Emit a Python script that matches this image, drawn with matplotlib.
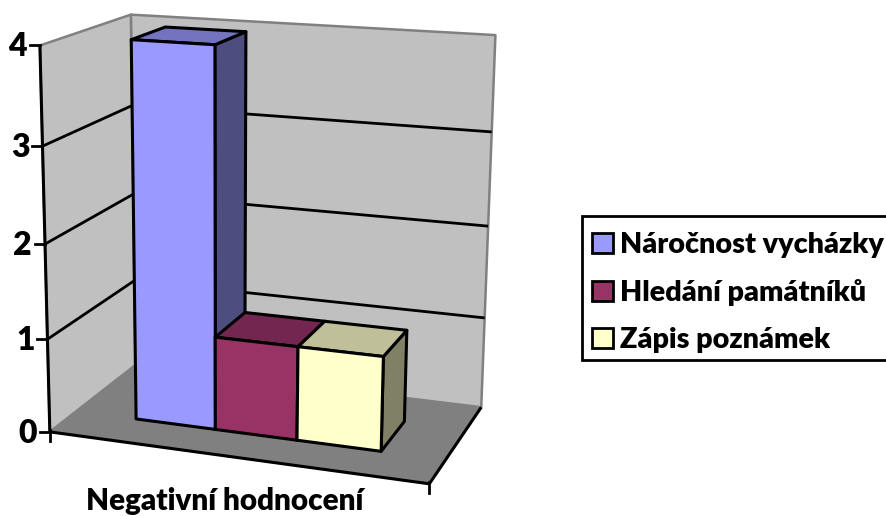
import numpy as np
import matplotlib
matplotlib.use('Agg')
import matplotlib.pyplot as plt
from matplotlib.patches import Patch, Polygon, Rectangle

# data
category = 'Negativní hodnocení'
series = ['Náročnost vycházky', 'Hledání památníků', 'Zápis poznámek']
values = [4, 1, 1]
y_ticks = [0, 1, 2, 3, 4]

# colours: front, top, side
front_colors = ['#9999FF', '#993366', '#FFFFCC']
top_colors = ['#7373BF', '#732650', '#BFBF99']
side_colors = ['#4D4D80', '#4D1A33', '#808066']

plt.rcParams['font.family'] = ['Lato', 'DejaVu Sans']
plt.rcParams['font.weight'] = 'heavy'

fig = plt.figure(figsize=(8.87, 5.16), dpi=100)
ax = fig.add_axes([0, 0, 1, 1])
ax.set_xlim(0, 887)
ax.set_ylim(516, 0)
ax.axis('off')

# chart box corners on screen (t across, d into the page, v up), used to fit the 3d view
box_model = np.array([[0, 0, 0], [1, 0, 0], [0, 1, 0], [1, 1, 0],
                      [0, 0, 4], [1, 0, 4], [0, 1, 4], [1, 1, 4]], float)
box_screen = np.array([[52, 432], [429, 484], [133, 365], [482, 407],
                       [38, 45], [442, 71], [133, 15], [495, 35]], float)


def fit_view(model, screen):
    rows, rhs = [], []
    for (a, b, c), (u, w) in zip(model, screen):
        rows.append([a, b, c, 1, 0, 0, 0, 0, -u * a, -u * b, -u * c])
        rows.append([0, 0, 0, 0, a, b, c, 1, -w * a, -w * b, -w * c])
        rhs += [u, w]
    sol = np.linalg.lstsq(np.array(rows), np.array(rhs), rcond=None)[0]
    return np.append(sol, 1).reshape(3, 4)


view = fit_view(box_model, box_screen)


def proj(t, d, v):
    p = view @ np.array([t, d, v, 1.0])
    return p[0] / p[2], p[1] / p[2]


def face(pts, color, edge='black', lw=2.2, z=2):
    ax.add_patch(Polygon([proj(*p) for p in pts], closed=True, facecolor=color,
                         edgecolor=edge, linewidth=lw, joinstyle='round', zorder=z))


def line(a, b, color='black', lw=2.0, z=1.5):
    pa, pb = proj(*a), proj(*b)
    ax.plot([pa[0], pb[0]], [pa[1], pb[1]], color=color, linewidth=lw,
            solid_capstyle='butt', zorder=z)


top = y_ticks[-1]

# walls and floor
face([(0, 1, 0), (1, 1, 0), (1, 1, top), (0, 1, top)], '#C0C0C0', edge='#808080', lw=1.8, z=1)
face([(0, 0, 0), (0, 1, 0), (0, 1, top), (0, 0, top)], '#C0C0C0', edge='#808080', lw=1.8, z=1)
face([(0, 0, 0), (1, 0, 0), (1, 1, 0), (0, 1, 0)], '#808080', edge='#808080', lw=1, z=1.2)

# gridlines
for v in y_ticks[1:-1]:
    line((0, 0, v), (0, 1, v))
    line((0, 1, v), (1, 1, v))

# axes edges and ticks
line((0, 0, 0), (0, 0, top), lw=2.2, z=1.6)
line((0, 0, 0), (1, 0, 0), lw=2.2, z=1.6)
line((1, 0, 0), (1, 1, 0), lw=2.2, z=1.6)
for v in y_ticks:
    x, y = proj(0, 0, v)
    ax.plot([x - 10, x], [y, y], color='black', linewidth=2, zorder=1.6)
    ax.text(x - 13, y + 1.5, str(v), ha='right', va='center', fontsize=23, zorder=5)
for t in [0, 1]:
    x, y = proj(t, 0, 0)
    ax.plot([x, x], [y - 2, y + 9], color='black', linewidth=2, zorder=1.6)

ax.text(225, 501, category, ha='center', va='center', fontsize=21.3, zorder=5)

# bars
x_start, x_end = 0.171, 0.835
d_front, d_back = 0.29, 0.69
width = (x_end - x_start) / len(values)
for i, val in enumerate(values):
    t0 = x_start + i * width
    t1 = t0 + width
    face([(t1, d_front, 0), (t1, d_back, 0), (t1, d_back, val), (t1, d_front, val)], side_colors[i], z=3 + i)
    face([(t0, d_front, val), (t1, d_front, val), (t1, d_back, val), (t0, d_back, val)], top_colors[i], z=3 + i)
    face([(t0, d_front, 0), (t1, d_front, 0), (t1, d_front, val), (t0, d_front, val)], front_colors[i], z=3 + i)

# legend, frame runs off the right edge like in the original
ax.add_patch(Rectangle((582, 216), 320, 144, facecolor='white', edgecolor='black', linewidth=2, zorder=6))
handles = [Patch(facecolor=c, edgecolor='black', linewidth=2) for c in front_colors]
leg = ax.legend(handles, series, loc='upper left', bbox_to_anchor=(592 / 887, 1 - 232 / 516),
                bbox_transform=fig.transFigure, fontsize=20.7, frameon=False, borderaxespad=0, borderpad=0,
                handlelength=0.73, handleheight=0.73, handletextpad=0.24, labelspacing=0.73)
leg.set_zorder(7)

fig.savefig('out.png', dpi=100)
